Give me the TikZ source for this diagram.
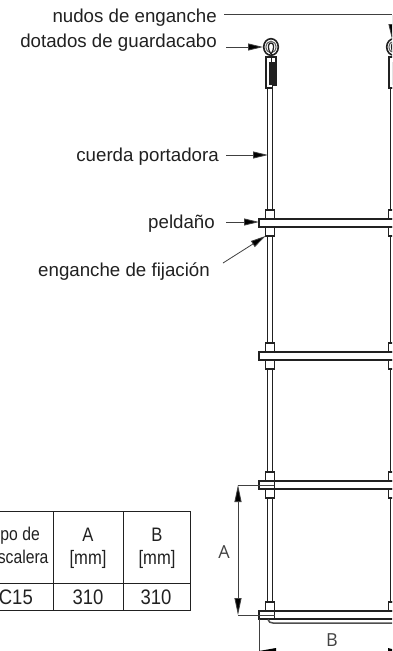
\documentclass[tikz,border=0pt]{standalone}
\usepackage{fontspec}
\setmainfont{Liberation Sans}
\newfontfamily\dimfont{Open Sans}
\newfontfamily\cellfont[FakeStretch=0.85]{Liberation Sans}
\newfontfamily\valfont[FakeStretch=0.88]{Liberation Sans}
\usetikzlibrary{arrows.meta}
\definecolor{ink}{gray}{0.13}
\definecolor{leadc}{gray}{0.25}
\tikzset{
 x=1pt,y=-1pt,
 lbl/.style={inner sep=0pt,anchor=base east,font=\fontsize{18.7}{20}\selectfont,text=ink},
 cellhead/.style={inner sep=0pt,anchor=base,font=\cellfont\fontsize{19.5}{20}\selectfont,text=ink},
 cellval/.style={inner sep=0pt,anchor=base,font=\valfont\fontsize{21}{22}\selectfont,text=ink},
 dimtxt/.style={inner sep=0pt,anchor=base,font=\dimfont\fontsize{18}{20}\selectfont,text=ink!85},
 lead/.style={draw=leadc,line width=0.8pt,-{Triangle[length=15pt,width=7pt,fill=black]}},
 dimline/.style={draw=leadc,line width=0.8pt},
 dimarrow/.style={draw=leadc,line width=0.8pt,{Triangle[length=17pt,width=7pt,fill=black]}-{Triangle[length=17pt,width=7pt,fill=black]}},
 part/.style={draw=ink,line width=1.1pt,fill=white},
 rope/.style={draw=ink,line width=1.2pt,fill=white},
 gridl/.style={draw=ink,line width=0.9pt}
}
\newcommand{\ropeat}[1]{%
 \draw[rope] (#1-2.4,88) rectangle (#1+2.4,602);
 \draw[part,line width=1.6pt] (#1+1,47) circle[x radius=7.3pt,y radius=8.3pt];
 \draw[draw=ink!70,line width=1.1pt] (#1+1,47) circle[x radius=5pt,y radius=5.8pt];
 \draw[draw=ink,line width=1.2pt,fill=white] (#1+1,54) .. controls (#1-3,48) and (#1-2,43) .. (#1+1,43) .. controls (#1+4,43) and (#1+5,48) .. (#1+1,54);
 \draw[draw=ink,line width=1.3pt,fill=white] (#1-4,57) -- (#1+6,57) -- (#1+6,85) -- (#1+2.4,85) -- (#1+2.4,88) -- (#1-4,88) -- cycle;
 \fill[ink] (#1-1,62) rectangle (#1+4.6,85);
 \fill[ink] (#1+0.8,54) rectangle (#1+2.2,62);
 \foreach \yt/\yb in {219/227,352/360,481/489,611/619}{
  \draw[part] (#1-4.3,\yt-9) rectangle (#1+4.3,\yt);
  \ifnum\yt<600 \draw[part] (#1-4.3,\yb) rectangle (#1+4.3,\yb+9);\fi
 }
}
\begin{document}
\begin{tikzpicture}
\useasboundingbox (0,0) rectangle (392,651);
\clip (0,0) rectangle (392,651);
\fill[white] (0,0) rectangle (392,651);
\ropeat{270}
\ropeat{393}
% rungs
\foreach \yy in {219,352,481,611}{
 \draw[part] (259,\yy) rectangle (400,\yy+8);
}
\draw[draw=ink,line width=0.9pt] (274.3,481) -- (274.3,489) (274.3,611) -- (274.3,619);
% under-tread of the last rung
\draw[draw=ink!80,line width=1.5pt] (268,619.5) .. controls (269,622) and (270,623) .. (273,623) -- (400,623);
% labels
\node[lbl] (t1) at (217,22) {nudos de enganche};
\node[lbl] (t2) at (217,47) {dotados de guardacabo};
\node[lbl] (t3) at (219,161) {cuerda portadora};
\node[lbl] (t4) at (215,228) {peldaño};
\node[lbl] (t5) at (210,276) {enganche de fijación};
% leaders
\coordinate (e1) at (224,14.5);
\coordinate (e2) at (392,14.5);
\coordinate (e3) at (392,39);
\draw[dimline] (e1) -- (e2);
\draw[lead] (e2) -- (e3);
\coordinate (s2) at (226,47);  \coordinate (d2) at (263,47);
\coordinate (s3) at (226,155); \coordinate (d3) at (268,155);
\coordinate (s4) at (226,222); \coordinate (d4) at (259,222);
\coordinate (s5) at (223,263); \coordinate (d5) at (265.5,236);
\draw[lead] (s2) -- (d2);
\draw[lead] (s3) -- (d3);
\draw[lead] (s4) -- (d4);
\draw[lead] (s5) -- (d5);
% dimensions
\coordinate (a1) at (238,485);
\coordinate (a2) at (238,615);
\draw[dimline] (a1) -- (274,485);
\draw[dimline] (a2) -- (275,615);
\draw[dimarrow] (a1) -- (a2);
\node[dimtxt] (la) at (224,558) {A};
\coordinate (b0) at (259,619);
\coordinate (b1) at (259,651);
\draw[dimline] (b0) -- (b1);
\fill[black] (259,651) -- (276,648) -- (276,651) -- cycle;
\fill[black] (388,648) -- (392,649) -- (392,651) -- (388,651) -- cycle;
\node[dimtxt] (lb) at (332,646) {B};
% table
\draw[gridl] (0,511) -- (190,511) -- (190,610) -- (0,610);
\draw[gridl] (0,583) -- (190,583);
\draw[gridl] (53,511) -- (53,610);
\draw[gridl] (123,511) -- (123,610);
\node[cellhead,anchor=base east,font=\cellfont\fontsize{18.5}{20}\selectfont] (c1) at (40,540) {Tipo de};
\node[cellhead,anchor=base east,font=\cellfont\fontsize{18.5}{20}\selectfont] (c2) at (48.7,563) {escalera};
\node[cellhead] (c3) at (88,541) {A};
\node[cellhead] (c4) at (88,564) {[mm]};
\node[cellhead] (c5) at (157,541) {B};
\node[cellhead] (c6) at (157,564) {[mm]};
\node[cellval,anchor=base east] (c7) at (33,604) {C15};
\node[cellval] (c8) at (88,604) {310};
\node[cellval] (c9) at (156,604) {310};
\end{tikzpicture}
\end{document}
